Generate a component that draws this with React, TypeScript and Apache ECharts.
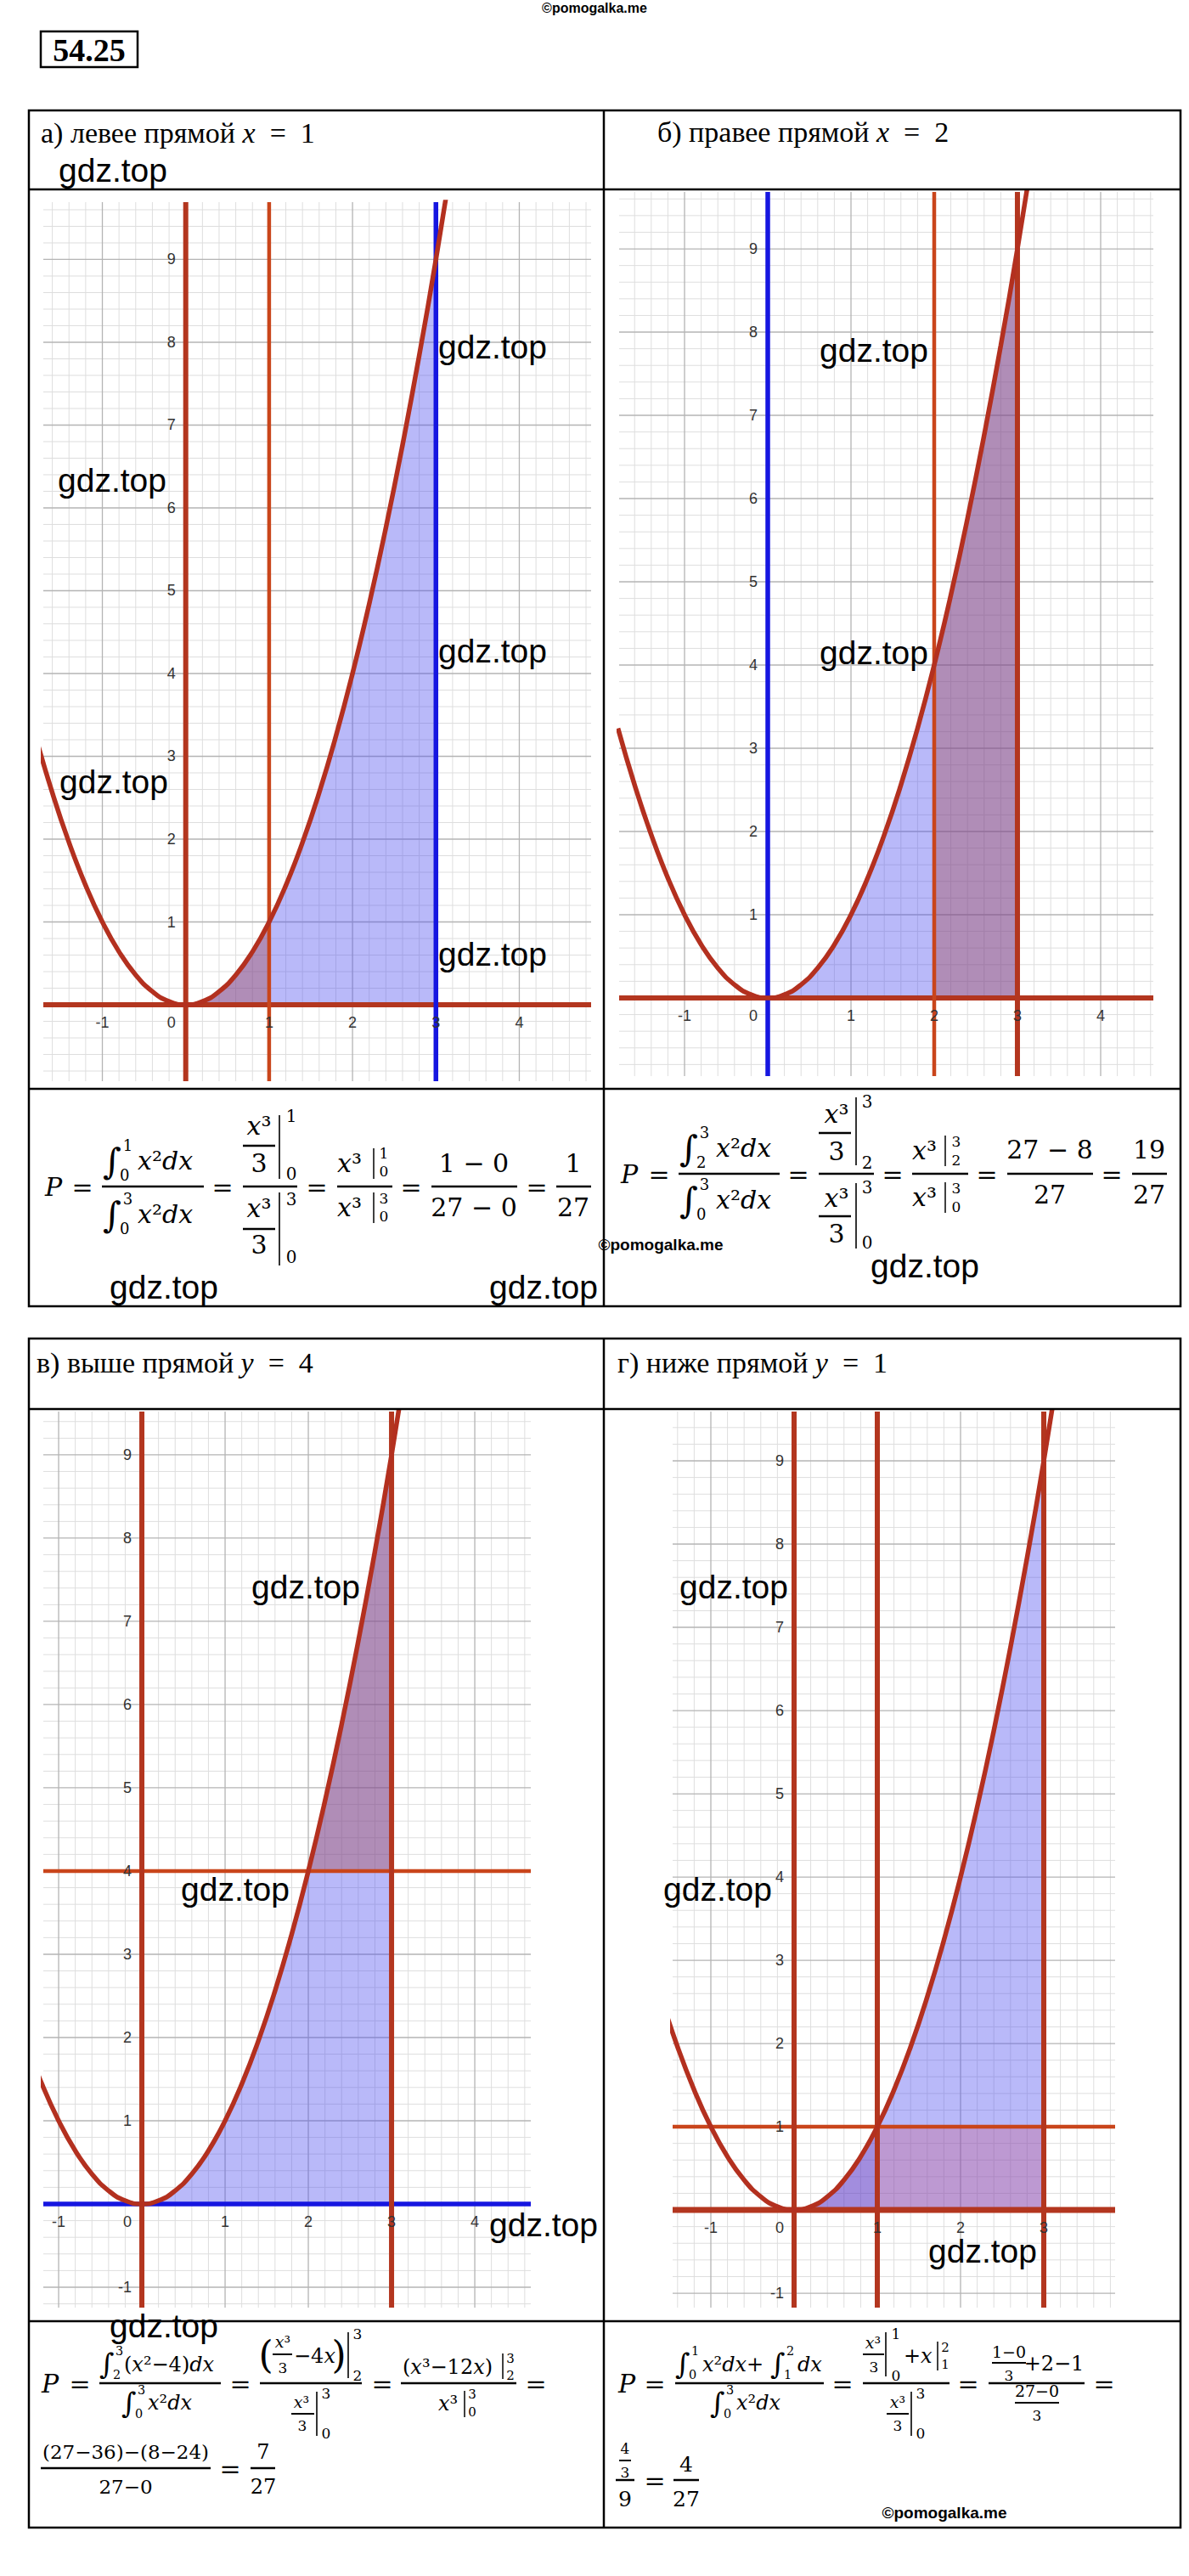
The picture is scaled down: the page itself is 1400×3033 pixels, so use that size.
import React, { useEffect, useRef } from 'react';
import * as echarts from 'echarts';

// ---------------- data ----------------
const PARABOLA_X = [-1.8, -1.6, -1.4, -1.2, -1.0, -0.8, -0.6, -0.4, -0.2, 0, 0.2, 0.4, 0.6, 0.8, 1.0, 1.2, 1.4, 1.6, 1.8, 2.0, 2.2, 2.4, 2.6, 2.8, 3.0, 3.2];
const PARABOLA_Y = [3.24, 2.56, 1.96, 1.44, 1.0, 0.64, 0.36, 0.16, 0.04, 0, 0.04, 0.16, 0.36, 0.64, 1.0, 1.44, 1.96, 2.56, 3.24, 4.0, 4.84, 5.76, 6.76, 7.84, 9.0, 10.24];

const A_X_TICKS = [-1, 0, 1, 2, 3, 4];
const A_Y_TICKS = [1, 2, 3, 4, 5, 6, 7, 8, 9];
const B_X_TICKS = [-1, 0, 1, 2, 3, 4];
const B_Y_TICKS = [1, 2, 3, 4, 5, 6, 7, 8, 9];
const C_X_TICKS = [-1, 0, 1, 2, 3, 4];
const C_Y_TICKS = [-1, 1, 2, 3, 4, 5, 6, 7, 8, 9];
const D_X_TICKS = [-1, 0, 1, 2, 3];
const D_Y_TICKS = [-1, 1, 2, 3, 4, 5, 6, 7, 8, 9];

const A_VERTICALS = [0, 1, 3];
const A_HORIZONTALS = [0];
const B_VERTICALS = [0, 2, 3];
const B_HORIZONTALS = [0];
const C_VERTICALS = [0, 3];
const C_HORIZONTALS = [0, 4];
const D_VERTICALS = [0, 1, 3];
const D_HORIZONTALS = [0, 1];

// regions under the parabola: [from x, to x, base y, cap y]
const A_REGIONS = [[0, 3, 0, 99], [0, 1, 0, 99]];
const B_REGIONS = [[0, 3, 0, 99], [2, 3, 0, 99]];
const C_REGIONS = [[0, 3, 0, 99], [2, 3, 4, 99]];
const D_REGIONS = [[0, 3, 0, 99], [0, 1, 0, 99], [1, 3, 0, 1]];

// ---------------- styles ----------------
const SERIF = "'Liberation Serif', 'Times New Roman', serif";
const MATH = "'DejaVu Serif', serif";
const SANS = "'Liberation Sans', Arial, sans-serif";

const LINE_STYLES: any = {
  red: { color: '#b3361f', width: 6 },
  redW: { color: '#b3361f', width: 7 },
  orange: { color: '#c9451b', width: 4.5 },
  blue: { color: '#1616e0', width: 5.5 },
};
const REGION_COLORS: any = {
  blue: 'rgba(80,80,240,0.4)',
  mauve: 'rgba(160,60,60,0.35)',
  purple: 'rgba(110,40,160,0.3)',
  pink: 'rgba(200,80,120,0.3)',
};

const PANELS = [
  { left: 51, top: 238, width: 645, height: 1035, xr: [-1.708, 4.861], yr: [-0.923, 9.692], xt: A_X_TICKS, yt: A_Y_TICKS,
    vs: A_VERTICALS, vStyle: ['red', 'orange', 'blue'], hs: A_HORIZONTALS, hStyle: ['red'], regions: A_REGIONS, rColors: ['blue', 'mauve'] },
  { left: 729, top: 226, width: 629, height: 1041, xr: [-1.786, 4.633], yr: [-0.939, 9.684], xt: B_X_TICKS, yt: B_Y_TICKS,
    vs: B_VERTICALS, vStyle: ['blue', 'orange', 'red'], hs: B_HORIZONTALS, hStyle: ['red'], regions: B_REGIONS, rColors: ['blue', 'mauve'] },
  { left: 51, top: 1662, width: 574, height: 1055, xr: [-1.184, 4.673], yr: [-1.245, 9.52], xt: C_X_TICKS, yt: C_Y_TICKS,
    vs: C_VERTICALS, vStyle: ['red', 'red'], hs: C_HORIZONTALS, hStyle: ['blue', 'orange'], regions: C_REGIONS, rColors: ['blue', 'mauve'] },
  { left: 792, top: 1662, width: 521, height: 1055, xr: [-1.459, 3.857], yr: [-1.173, 9.592], xt: D_X_TICKS, yt: D_Y_TICKS,
    vs: D_VERTICALS, vStyle: ['red', 'red', 'red'], hs: D_HORIZONTALS, hStyle: ['redW', 'orange'], regions: D_REGIONS, rColors: ['blue', 'purple', 'pink'] },
];

const WATERMARKS = [
  [69, 200], [516, 408], [68, 565], [516, 766], [70, 920], [516, 1123],
  [965, 412], [965, 768], [129, 1515], [576, 1515], [1025, 1490],
  [296, 1868], [213, 2224], [576, 2619], [129, 2738], [800, 1868], [781, 2224], [1093, 2650],
];

// ---------------- graphic helpers ----------------
function t(x: number, y: number, text: string, size: number, o: any = {}) {
  const align = o.align || 'center';
  return {
    type: 'text', x, y, z: 100, silent: true,
    style: {
      text, fontSize: size, fontFamily: o.family || MATH, fontStyle: o.italic ? 'italic' : 'normal',
      fontWeight: o.bold ? 'bold' : 'normal', fill: o.color || '#000',
      align, verticalAlign: 'middle', textAlign: align, textVerticalAlign: 'middle',
    },
  };
}
function r(x: number, y: number, parts: string[][], size: number, align = 'center', family = MATH) {
  const text = parts.map(([k, s]) => `{${k}|${s}}`).join('');
  const base = { fontSize: size, fontFamily: family, fill: '#000' };
  return {
    type: 'text', x, y, z: 100, silent: true,
    style: {
      text, ...base, align, verticalAlign: 'middle', textAlign: align, textVerticalAlign: 'middle',
      rich: { n: { ...base }, i: { ...base, fontStyle: 'italic' } },
    },
  };
}
function ln(x1: number, y1: number, x2: number, y2: number, w = 2.5, color = '#000') {
  return { type: 'line', z: 100, silent: true, shape: { x1, y1, x2, y2 }, style: { stroke: color, lineWidth: w } };
}
const hl = (x1: number, x2: number, y: number, w = 2.5) => ln(x1, y, x2, y, w);
const vl = (x: number, y1: number, y2: number, w = 1.6) => ln(x, y1, x, y2, w);
function integ(x: number, yc: number, hi: string, lo: string, size: number) {
  return [
    t(x, yc, '∫', size * 1.4, { align: 'left' }),
    t(x + 0.98 * size, yc - 0.62 * size, hi, size * 0.6),
    t(x + 0.86 * size, yc + 0.56 * size, lo, size * 0.6),
  ];
}
const X2DX = [['i', 'x'], ['n', '²'], ['i', 'dx']];
const X3 = [['i', 'x'], ['n', '³']];

function buildGraphics() {
  const g: any[] = [];
  // top watermark and task number
  g.push(t(700, 9, '©pomogalka.me', 16, { family: SANS, bold: true }));
  g.push({ type: 'rect', z: 100, silent: true, shape: { x: 48, y: 37, width: 114, height: 42 }, style: { fill: 'none', stroke: '#000', lineWidth: 2.5 } });
  g.push(t(105, 59, '54.25', 38, { family: SERIF, bold: true }));

  // tables
  const tables = [[130, 223, 1282, 1538], [1576, 1659, 2733, 2976]];
  tables.forEach(([top, h1, h2, bot]) => {
    g.push({ type: 'rect', z: 100, silent: true, shape: { x: 34, y: top, width: 1356, height: bot - top }, style: { fill: 'none', stroke: '#000', lineWidth: 2.5 } });
    g.push(ln(34, h1, 1390, h1));
    g.push(ln(34, h2, 1390, h2));
    g.push(ln(711, top, 711, bot));
  });

  // headers
  g.push(r(48, 156, [['n', 'а) левее прямой '], ['i', 'x'], ['n', '  =  1']], 34, 'left', SERIF));
  g.push(r(774, 155, [['n', 'б) правее прямой '], ['i', 'x'], ['n', '  =  2']], 34, 'left', SERIF));
  g.push(r(43, 1604, [['n', 'в) выше прямой '], ['i', 'y'], ['n', '  =  4']], 34, 'left', SERIF));
  g.push(r(727, 1604, [['n', 'г) ниже прямой '], ['i', 'y'], ['n', '  =  1']], 34, 'left', SERIF));

  // ---- formula a ----
  g.push(r(53, 1397, [['i', 'P']], 30, 'left'));
  g.push(t(97, 1397, '=', 30));
  g.push(hl(120, 240, 1397));
  g.push(...integ(121, 1367, '1', '0', 30));
  g.push(r(162, 1366, X2DX, 30, 'left'));
  g.push(...integ(121, 1430, '3', '0', 30));
  g.push(r(162, 1429, X2DX, 30, 'left'));
  g.push(t(262, 1397, '=', 30));
  g.push(hl(286, 350, 1397));
  g.push(r(305, 1325, X3, 30));
  g.push(hl(286, 324, 1349));
  g.push(t(305, 1369, '3', 30));
  g.push(vl(329, 1313, 1388));
  g.push(t(343, 1314, '1', 20));
  g.push(t(343, 1382, '0', 20));
  g.push(r(305, 1422, X3, 30));
  g.push(hl(286, 324, 1447));
  g.push(t(305, 1465, '3', 30));
  g.push(vl(329, 1404, 1490));
  g.push(t(343, 1412, '3', 20));
  g.push(t(343, 1480, '0', 20));
  g.push(t(373, 1397, '=', 30));
  g.push(hl(397, 462, 1397));
  g.push(r(397, 1369, X3, 30, 'left'));
  g.push(vl(440, 1352, 1388, 1.5));
  g.push(t(452, 1358, '1', 17));
  g.push(t(452, 1379, '0', 17));
  g.push(r(397, 1421, X3, 30, 'left'));
  g.push(vl(440, 1404, 1440, 1.5));
  g.push(t(452, 1411, '3', 17));
  g.push(t(452, 1432, '0', 17));
  g.push(t(484, 1397, '=', 30));
  g.push(hl(508, 609, 1397));
  g.push(t(558, 1369, '1 − 0', 30));
  g.push(t(558, 1421, '27 − 0', 30));
  g.push(t(632, 1397, '=', 30));
  g.push(hl(655, 696, 1397));
  g.push(t(675, 1369, '1', 30));
  g.push(t(675, 1421, '27', 30));

  // ---- formula b ----
  g.push(r(731, 1382, [['i', 'P']], 30, 'left'));
  g.push(t(776, 1382, '=', 30));
  g.push(hl(799, 918, 1382));
  g.push(...integ(800, 1352, '3', '2', 30));
  g.push(r(843, 1351, X2DX, 30, 'left'));
  g.push(...integ(800, 1413, '3', '0', 30));
  g.push(r(843, 1412, X2DX, 30, 'left'));
  g.push(t(940, 1382, '=', 30));
  g.push(hl(964, 1029, 1382));
  g.push(r(985, 1311, X3, 30));
  g.push(hl(964, 1002, 1334));
  g.push(t(985, 1355, '3', 30));
  g.push(vl(1008, 1292, 1372));
  g.push(t(1021, 1297, '3', 20));
  g.push(t(1021, 1369, '2', 20));
  g.push(r(985, 1410, X3, 30));
  g.push(hl(964, 1002, 1432));
  g.push(t(985, 1452, '3', 30));
  g.push(vl(1008, 1393, 1470));
  g.push(t(1021, 1398, '3', 20));
  g.push(t(1021, 1463, '0', 20));
  g.push(t(1051, 1382, '=', 30));
  g.push(hl(1074, 1140, 1382));
  g.push(r(1074, 1354, X3, 30, 'left'));
  g.push(vl(1113, 1337, 1373, 1.5));
  g.push(t(1126, 1344, '3', 17));
  g.push(t(1126, 1366, '2', 17));
  g.push(r(1074, 1409, X3, 30, 'left'));
  g.push(vl(1113, 1392, 1428, 1.5));
  g.push(t(1126, 1399, '3', 17));
  g.push(t(1126, 1421, '0', 17));
  g.push(t(1162, 1382, '=', 30));
  g.push(hl(1186, 1287, 1382));
  g.push(t(1236, 1353, '27 − 8', 30));
  g.push(t(1236, 1406, '27', 30));
  g.push(t(1309, 1382, '=', 30));
  g.push(hl(1333, 1374, 1382));
  g.push(t(1353, 1353, '19', 30));
  g.push(t(1353, 1406, '27', 30));

  // ---- formula c ----
  g.push(r(49, 2806, [['i', 'P']], 30, 'left'));
  g.push(t(94, 2806, '=', 30));
  g.push(hl(117, 260, 2806));
  g.push(...integ(117, 2783, '3', '2', 24));
  g.push(r(146, 2784, [['n', '('], ['i', 'x'], ['n', '²−4)'], ['i', 'dx']], 24, 'left'));
  g.push(...integ(143, 2829, '3', '0', 24));
  g.push(r(174, 2829, X2DX, 24, 'left'));
  g.push(t(283, 2806, '=', 30));
  g.push(hl(306, 426, 2806));
  g.push(t(313, 2772, '(', 44));
  g.push(r(333, 2757, X3, 19));
  g.push(hl(321, 344, 2772, 2));
  g.push(t(333, 2788, '3', 17));
  g.push(r(346, 2774, [['n', '−4'], ['i', 'x']], 24, 'left'));
  g.push(t(399, 2772, ')', 44));
  g.push(vl(410, 2746, 2800));
  g.push(t(421, 2748, '3', 17));
  g.push(t(421, 2797, '2', 17));
  g.push(r(355, 2828, X3, 19));
  g.push(hl(343, 370, 2842, 2));
  g.push(t(356, 2856, '3', 17));
  g.push(vl(373, 2816, 2868));
  g.push(t(384, 2818, '3', 17));
  g.push(t(384, 2865, '0', 17));
  g.push(t(450, 2806, '=', 30));
  g.push(hl(472, 608, 2806));
  g.push(r(474, 2787, [['n', '('], ['i', 'x'], ['n', '³−12'], ['i', 'x'], ['n', ')']], 24, 'left'));
  g.push(vl(592, 2771, 2801, 1.5));
  g.push(t(601, 2777, '3', 15));
  g.push(t(601, 2797, '2', 15));
  g.push(r(516, 2830, X3, 24, 'left'));
  g.push(vl(547, 2815, 2846, 1.5));
  g.push(t(556, 2819, '3', 15));
  g.push(t(556, 2840, '0', 15));
  g.push(t(631, 2806, '=', 30));
  g.push(hl(48, 248, 2906));
  g.push(t(148, 2887, '(27−36)−(8−24)', 23));
  g.push(t(148, 2928, '27−0', 23));
  g.push(t(271, 2906, '=', 30));
  g.push(hl(295, 324, 2906));
  g.push(t(310, 2887, '7', 24));
  g.push(t(310, 2928, '27', 24));

  // ---- formula d ----
  g.push(r(728, 2806, [['i', 'P']], 30, 'left'));
  g.push(t(771, 2806, '=', 30));
  g.push(hl(795, 970, 2806));
  g.push(...integ(795, 2783, '1', '0', 24));
  g.push(r(827, 2784, [['i', 'x'], ['n', '²'], ['i', 'dx'], ['n', '+']], 24, 'left'));
  g.push(...integ(907, 2783, '2', '1', 24));
  g.push(r(939, 2784, [['i', 'dx']], 24, 'left'));
  g.push(...integ(836, 2829, '3', '0', 24));
  g.push(r(867, 2829, X2DX, 24, 'left'));
  g.push(t(992, 2806, '=', 30));
  g.push(hl(1016, 1118, 2806));
  g.push(r(1028, 2758, X3, 19));
  g.push(hl(1016, 1041, 2772, 2));
  g.push(t(1029, 2787, '3', 17));
  g.push(vl(1043, 2746, 2798));
  g.push(t(1055, 2748, '1', 17));
  g.push(t(1055, 2797, '0', 17));
  g.push(r(1064, 2774, [['n', '+'], ['i', 'x']], 24, 'left'));
  g.push(vl(1104, 2757, 2791, 1.5));
  g.push(t(1113, 2764, '2', 15));
  g.push(t(1113, 2784, '1', 15));
  g.push(r(1057, 2828, X3, 19));
  g.push(hl(1044, 1070, 2842, 2));
  g.push(t(1057, 2856, '3', 17));
  g.push(vl(1073, 2816, 2868));
  g.push(t(1084, 2818, '3', 17));
  g.push(t(1084, 2865, '0', 17));
  g.push(t(1140, 2806, '=', 30));
  g.push(hl(1164, 1277, 2806));
  g.push(t(1188, 2769, '1−0', 19));
  g.push(hl(1168, 1208, 2782, 2));
  g.push(t(1188, 2797, '3', 17));
  g.push(t(1241, 2783, '+2−1', 24));
  g.push(t(1221, 2815, '27−0', 19));
  g.push(hl(1195, 1247, 2829, 2));
  g.push(t(1221, 2844, '3', 17));
  g.push(t(1300, 2806, '=', 30));
  g.push(t(736, 2883, '4', 17));
  g.push(hl(729, 743, 2897, 2));
  g.push(t(736, 2911, '3', 17));
  g.push(hl(725, 747, 2920));
  g.push(t(736, 2942, '9', 25));
  g.push(t(771, 2920, '=', 30));
  g.push(hl(793, 823, 2920));
  g.push(t(808, 2901, '4', 25));
  g.push(t(808, 2942, '27', 25));

  // bottom watermarks
  g.push(t(778, 1465, '©pomogalka.me', 19, { family: SANS, bold: true }));
  g.push(t(1112, 2958, '©pomogalka.me', 19, { family: SANS, bold: true }));
  WATERMARKS.forEach(([x, y]) => g.push(t(x, y, 'gdz.top', 39, { family: SANS, align: 'left' })));
  return g;
}

function regionPoints(reg: number[]) {
  const [from, to, base, cap] = reg;
  const pts: number[][] = [[from, base]];
  PARABOLA_X.forEach((x, k) => {
    if (x >= from - 1e-9 && x <= to + 1e-9) pts.push([x, Math.max(base, Math.min(PARABOLA_Y[k], cap))]);
  });
  pts.push([to, base]);
  return pts;
}

function gridItems(p: any) {
  const minor: number[][] = [];
  const major: number[][] = [];
  const add = (lo: number, hi: number, orient: number) => {
    for (let k = Math.ceil(lo / 0.2 - 1e-9); k <= Math.floor(hi / 0.2 + 1e-9); k++) {
      const v = Math.round(k * 2) / 10;
      (k % 5 === 0 ? major : minor).push([v, orient, k % 5 === 0 ? 1 : 0]);
    }
  };
  add(p.xr[0], p.xr[1], 0);
  add(p.yr[0], p.yr[1], 1);
  return minor.concat(major);
}

function buildOption() {
  const series: any[] = [];
  PANELS.forEach((p: any, i: number) => {
    const axes = { xAxisIndex: i, yAxisIndex: i };
    series.push({
      type: 'custom', ...axes, z: 1, silent: true, data: gridItems(p),
      renderItem: (params: any, api: any) => {
        const v = api.value(0), o = api.value(1), major = api.value(2);
        const a = o === 0 ? api.coord([v, p.yr[0]]) : api.coord([p.xr[0], v]);
        const b = o === 0 ? api.coord([v, p.yr[1]]) : api.coord([p.xr[1], v]);
        return { type: 'line', shape: { x1: a[0], y1: a[1], x2: b[0], y2: b[1] }, style: { stroke: major ? '#b4b4b4' : '#dedede', lineWidth: major ? 1.3 : 1 } };
      },
    });
    series.push({
      type: 'custom', ...axes, z: 2, silent: true, data: p.regions.map((_: any, k: number) => [k, 0]),
      renderItem: (params: any, api: any) => {
        const k = api.value(0);
        const pts = regionPoints(p.regions[k]).map((q) => api.coord(q));
        return { type: 'polygon', shape: { points: pts }, style: { fill: REGION_COLORS[p.rColors[k]] } };
      },
    });
    p.hs.forEach((v: number, k: number) => {
      const s = LINE_STYLES[p.hStyle[k]];
      series.push({ type: 'line', ...axes, z: 3, silent: true, symbol: 'none', data: [[p.xr[0], v], [p.xr[1], v]], lineStyle: { color: s.color, width: s.width } });
    });
    p.vs.forEach((v: number, k: number) => {
      const s = LINE_STYLES[p.vStyle[k]];
      series.push({ type: 'line', ...axes, z: 3, silent: true, symbol: 'none', data: [[v, p.yr[0]], [v, p.yr[1]]], lineStyle: { color: s.color, width: s.width } });
    });
    series.push({
      type: 'line', ...axes, z: 4, silent: true, symbol: 'none', smooth: true, clip: true,
      data: PARABOLA_X.map((x, k) => [x, PARABOLA_Y[k]]),
      lineStyle: { color: '#b3301f', width: 5.5 },
    });
    series.push({
      type: 'custom', ...axes, z: 5, silent: true, data: p.xt.map((v: number, k: number) => [v, k]),
      renderItem: (params: any, api: any) => {
        const v = api.value(0);
        const c = api.coord([v, 0]);
        return { type: 'text', x: c[0] + (v === 0 ? -17 : 0), y: c[1] + 21,
          style: { text: String(v), fontSize: 18, fontFamily: SANS, fill: '#333', align: 'center', verticalAlign: 'middle', textAlign: 'center', textVerticalAlign: 'middle' } };
      },
    });
    series.push({
      type: 'custom', ...axes, z: 5, silent: true, data: p.yt.map((v: number) => [0, v]),
      renderItem: (params: any, api: any) => {
        const v = api.value(1);
        const c = api.coord([0, v]);
        return { type: 'text', x: c[0] - 12, y: c[1],
          style: { text: String(v), fontSize: 18, fontFamily: SANS, fill: '#333', align: 'right', verticalAlign: 'middle', textAlign: 'right', textVerticalAlign: 'middle' } };
      },
    });
  });

  return {
    animation: false,
    backgroundColor: '#fff',
    grid: PANELS.map((p) => ({ left: p.left, top: p.top, width: p.width, height: p.height })),
    xAxis: PANELS.map((p, i) => ({ type: 'value', gridIndex: i, min: p.xr[0], max: p.xr[1], show: false })),
    yAxis: PANELS.map((p, i) => ({ type: 'value', gridIndex: i, min: p.yr[0], max: p.yr[1], show: false })),
    series,
    graphic: { elements: buildGraphics() },
  };
}

export default function App() {
  const ref = useRef<HTMLDivElement>(null);
  useEffect(() => {
    const chart = echarts.init(ref.current as HTMLDivElement, undefined, { renderer: 'svg', width: 1400, height: 3033 });
    chart.setOption(buildOption() as any);
    return () => chart.dispose();
  }, []);
  return <div ref={ref} style={{ position: 'absolute', left: 0, top: 0, width: 1400, height: 3033, background: '#fff' }} />;
}
